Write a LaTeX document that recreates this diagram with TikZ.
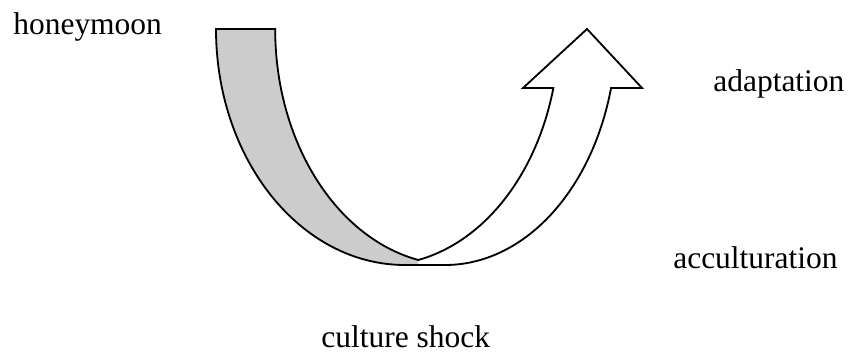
\documentclass[tikz,border=0pt]{standalone}
\usepackage{fontspec}
\setmainfont{Liberation Serif}
\usepackage{xcolor}
\usepackage{tikz}
\definecolor{bandgray}{RGB}{204,204,204}

\begin{document}
\begin{tikzpicture}[
  stage/.style={font=\fontsize{22.4}{26}\selectfont, anchor=base west, inner sep=0pt},
  band/.style={draw=black, line width=1.3pt, line join=miter}
]
\useasboundingbox (0,0) rectangle (21.2,8.8);
% shaded underside of the curve
\fill[bandgray] (5.4,8.075) arc (180:270:4.725 and 5.9) -- (10.455,2.175) -- (10.455,2.3)
  arc (258.17:180:4.5 and 5.9) -- cycle;
% outline of the u-turn arrow
\draw[band] (5.4,8.075) arc (180:270:4.725 and 5.9) -- (11.125,2.175)
  arc (270:345.52:4.2875 and 5.9) -- (16.05,6.6) -- (14.675,8.075) -- (13.075,6.6) -- (13.834,6.6)
  arc (-14.48:-78.17:4.425 and 5.9) arc (258.17:180:4.5 and 5.9) -- cycle;
\node[stage] (honeymoon) at (0.325,7.925) {honeymoon};
\node[stage] (adaptation) at (17.825,6.5) {adaptation};
\node[stage] (accult) at (16.825,2.1) {acculturation};
\node[stage] (shock) at (8.025,0.125) {culture shock};
\end{tikzpicture}
\end{document}
